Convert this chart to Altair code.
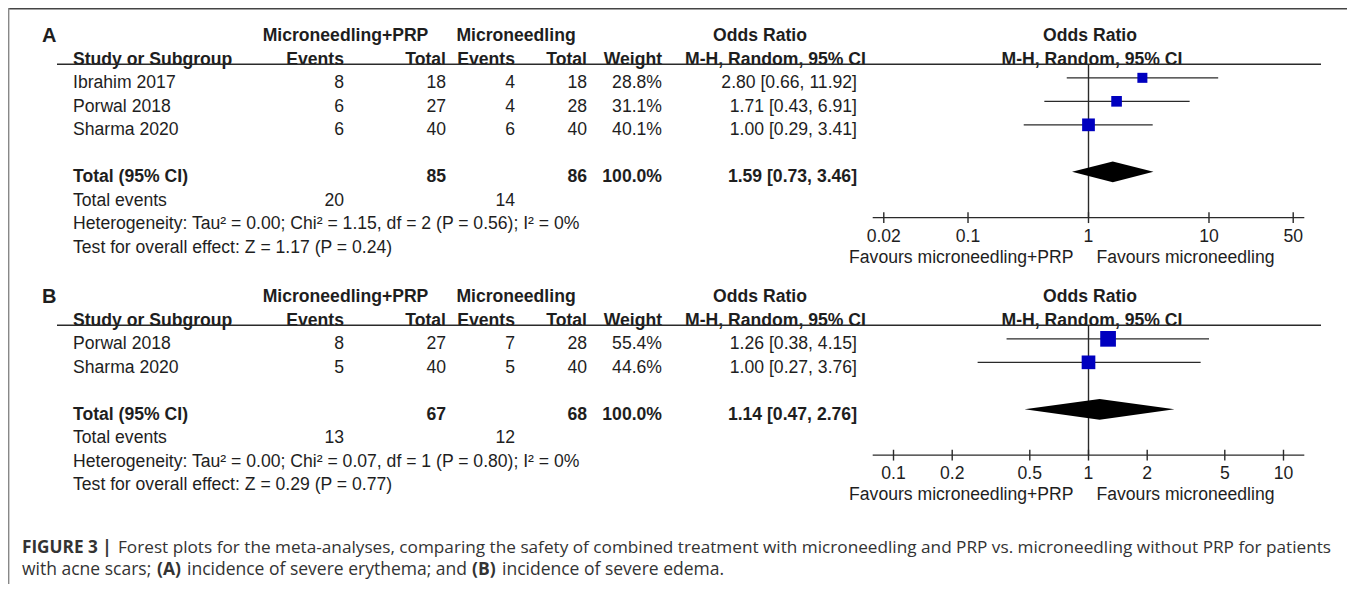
import altair as alt
import pandas as pd

# ---------------- data: panel A (severe erythema) ----------------
A_STUDY = ["Ibrahim 2017", "Porwal 2018", "Sharma 2020"]
A_EXP_EVENTS = [8, 6, 6]
A_EXP_TOTAL = [18, 27, 40]
A_CTL_EVENTS = [4, 4, 6]
A_CTL_TOTAL = [18, 28, 40]
A_WEIGHT = [28.8, 31.1, 40.1]
A_OR = [2.80, 1.71, 1.00]
A_LO = [0.66, 0.43, 0.29]
A_HI = [11.92, 6.91, 3.41]
A_POOLED = [1.59, 0.73, 3.46]
A_TOTALS = [85, 86]
A_TOTAL_EVENTS = [20, 14]
A_HET = "Heterogeneity: Tau² = 0.00; Chi² = 1.15, df = 2 (P = 0.56); I² = 0%"
A_TEST = "Test for overall effect: Z = 1.17 (P = 0.24)"
A_TICKS = [0.02, 0.1, 1, 10, 50]
A_TICK_LABELS = ["0.02", "0.1", "1", "10", "50"]

# ---------------- data: panel B (severe edema) ----------------
B_STUDY = ["Porwal 2018", "Sharma 2020"]
B_EXP_EVENTS = [8, 5]
B_EXP_TOTAL = [27, 40]
B_CTL_EVENTS = [7, 5]
B_CTL_TOTAL = [28, 40]
B_WEIGHT = [55.4, 44.6]
B_OR = [1.26, 1.00]
B_LO = [0.38, 0.27]
B_HI = [4.15, 3.76]
B_POOLED = [1.14, 0.47, 2.76]
B_TOTALS = [67, 68]
B_TOTAL_EVENTS = [13, 12]
B_HET = "Heterogeneity: Tau² = 0.00; Chi² = 0.07, df = 1 (P = 0.80); I² = 0%"
B_TEST = "Test for overall effect: Z = 0.29 (P = 0.77)"
B_TICKS = [0.1, 0.2, 0.5, 1, 2, 5, 10]
B_TICK_LABELS = ["0.1", "0.2", "0.5", "1", "2", "5", "10"]

HEAD1 = ["Microneedling+PRP", "Microneedling", "Odds Ratio", "Odds Ratio"]
HEAD2 = ["Study or Subgroup", "Events", "Total", "Events", "Total", "Weight",
         "M-H, Random, 95% CI", "M-H, Random, 95% CI"]
FAVOURS = ["Favours microneedling+PRP", "Favours microneedling"]
CAPTION = [
    ("FIGURE 3 |", True, 1),
    ("Forest plots for the meta-analyses, comparing the safety of combined treatment with microneedling and PRP vs. microneedling without PRP for patients", False, 1),
    ("with acne scars;", False, 2),
    ("(A)", True, 2),
    ("incidence of severe erythema; and", False, 2),
    ("(B)", True, 2),
    ("incidence of severe edema.", False, 2),
]

# ---------------- layout / style ----------------
W, H = 1339, 576
ROW = 23.5
ROW0 = 75.0
PANEL_SHIFT = 261.0 / ROW
MARK_SHIFT = -0.22
HEAD_LINE = -0.8
AXIS_GAP = 1.73
XR = [864.7, 1296.3]
A_DOMAIN = [10 ** -1.791, 10 ** 1.791]
B_DOMAIN = [10 ** -1.1067, 10 ** 1.1067]
FONT = "Liberation Sans"
FS = 17.6
CAP_FONT = "Open Sans"
CAP_FS = {1: 17.2, 2: 17.5}
TXT = "#1e1e1e"
LINE = "#2a2a2a"
BLUE = "#0000BF"

COLS = {
    "label": (34, "left"), "study": (65, "left"),
    "ee": (336, "right"), "et": (438, "right"), "ce": (507, "right"),
    "ct": (579, "right"), "w": (654, "right"), "ci": (849, "right"),
    "h_exp": (337.5, "center"), "h_ctl": (508, "center"), "h_or": (752, "center"),
    "h_mh": (767.5, "center"), "h_or2": (1082, "center"), "h_mh2": (1084, "center"),
}
CAP_X = {(1, 0): 14, (1, 1): 110, (2, 0): 14, (2, 1): 149, (2, 2): 179, (2, 3): 464, (2, 4): 494}
CAP_Y = {1: 540, 2: 562}

yscale = alt.Scale(domain=[-ROW0 / ROW, (H - ROW0) / ROW], range=[0, H], nice=False, zero=False)
Y = lambda f: alt.Y(f, scale=yscale, axis=None)
size_scale = alt.Scale(domain=[20, 60], range=[52, 271.6], zero=False)


def fmt_ci(v):
    return f"{v[0]:.2f} [{v[1]:.2f}, {v[2]:.2f}]"


def table_df(label, off, study, ee, et, ce, ct, w, orv, lo, hi, pooled, tots, tev, het, test):
    rows = []

    def add(r, col, text, bold=False):
        rows.append(dict(y=r + off, col=col, text=text, bold=bold))

    add(-2, "label", label, True)
    for c, t in zip(["h_exp", "h_ctl", "h_or", "h_or2"], HEAD1):
        add(-2, c, t, True)
    for c, t in zip(["study", "ee", "et", "ce", "ct", "w", "h_mh", "h_mh2"], HEAD2):
        add(-1, c, t, True)
    n = len(study)
    for i in range(n):
        add(i, "study", study[i])
        add(i, "ee", str(ee[i]))
        add(i, "et", str(et[i]))
        add(i, "ce", str(ce[i]))
        add(i, "ct", str(ct[i]))
        add(i, "w", f"{w[i]:.1f}%")
        add(i, "ci", fmt_ci([orv[i], lo[i], hi[i]]))
    t = n + 1
    add(t, "study", "Total (95% CI)", True)
    add(t, "et", str(tots[0]), True)
    add(t, "ct", str(tots[1]), True)
    add(t, "w", "100.0%", True)
    add(t, "ci", fmt_ci(pooled), True)
    add(t + 1, "study", "Total events")
    add(t + 1, "ee", str(tev[0]))
    add(t + 1, "ce", str(tev[1]))
    add(t + 2, "study", het)
    add(t + 3, "study", test)
    return pd.DataFrame(rows)


def text_layers(df):
    layers = []
    for (col, bold), sub in df.groupby(["col", "bold"]):
        x, align = COLS[col]
        size = 20 if col == "label" else FS
        layers.append(
            alt.Chart(sub).mark_text(align=align, baseline="middle", font=FONT, fontSize=size,
                                     fontWeight="bold" if bold else "normal", color=TXT)
            .encode(x=alt.value(x), y=Y("y:Q"), text="text:N")
        )
    return layers


def forest_layers(off, n, w, orv, lo, hi, pooled, domain, ticks, tick_labels):
    xs = alt.Scale(type="log", domain=domain, range=XR, nice=False)
    X = lambda f: alt.X(f, scale=xs, axis=None)
    axis_row = n + 1 + AXIS_GAP + off
    layers = []
    layers.append(alt.Chart(pd.DataFrame({"y": [HEAD_LINE + off]})).mark_rule(color=LINE, strokeWidth=1.6)
                  .encode(x=alt.value(49), x2=alt.value(1313), y=Y("y:Q")))
    layers.append(alt.Chart(pd.DataFrame({"x": [1], "y": [HEAD_LINE + off], "y2": [axis_row]}))
                  .mark_rule(color=LINE, strokeWidth=1.4).encode(x=X("x:Q"), y=Y("y:Q"), y2="y2:Q"))
    st = pd.DataFrame({"y": [i + MARK_SHIFT + off for i in range(n)], "or": orv, "lo": lo, "hi": hi, "w": w})
    layers.append(alt.Chart(st).mark_rule(color=LINE, strokeWidth=1.1)
                  .encode(x=X("lo:Q"), x2="hi:Q", y=Y("y:Q")))
    layers.append(alt.Chart(st).mark_square(color=BLUE, opacity=1)
                  .encode(x=X("or:Q"), y=Y("y:Q"), size=alt.Size("w:Q", scale=size_scale, legend=None)))
    c = n + 1 + MARK_SHIFT + off
    h = 0.44
    dia = pd.DataFrame({"x": [pooled[1], pooled[0], pooled[2]], "y": [c, c - h, c], "y2": [c, c + h, c]})
    layers.append(alt.Chart(dia).mark_area(color="black", orient="vertical", opacity=1)
                  .encode(x=X("x:Q"), y=Y("y:Q"), y2="y2:Q"))
    layers.append(alt.Chart(pd.DataFrame({"x": [domain[0]], "x2": [domain[1]], "y": [axis_row]}))
                  .mark_rule(color=LINE, strokeWidth=1.4).encode(x=X("x:Q"), x2="x2:Q", y=Y("y:Q")))
    tk = pd.DataFrame({"x": ticks, "t": tick_labels, "y": axis_row - 0.23, "y2": axis_row + 0.23,
                       "yl": axis_row + 19 / ROW})
    layers.append(alt.Chart(tk).mark_rule(color=LINE, strokeWidth=1.4)
                  .encode(x=X("x:Q"), y=Y("y:Q"), y2="y2:Q"))
    layers.append(alt.Chart(tk).mark_text(align="center", baseline="middle", font=FONT, fontSize=FS, color=TXT)
                  .encode(x=X("x:Q"), y=Y("yl:Q"), text="t:N"))
    fav = pd.DataFrame({"x": [1], "y": [axis_row + 40 / ROW], "l": [FAVOURS[0]], "r": [FAVOURS[1]]})
    layers.append(alt.Chart(fav).mark_text(align="right", baseline="middle", font=FONT, fontSize=FS, color=TXT, dx=-15)
                  .encode(x=X("x:Q"), y=Y("y:Q"), text="l:N"))
    layers.append(alt.Chart(fav).mark_text(align="left", baseline="middle", font=FONT, fontSize=FS, color=TXT, dx=8)
                  .encode(x=X("x:Q"), y=Y("y:Q"), text="r:N"))
    return layers


dfA = table_df("A", 0, A_STUDY, A_EXP_EVENTS, A_EXP_TOTAL, A_CTL_EVENTS, A_CTL_TOTAL, A_WEIGHT,
               A_OR, A_LO, A_HI, A_POOLED, A_TOTALS, A_TOTAL_EVENTS, A_HET, A_TEST)
dfB = table_df("B", PANEL_SHIFT, B_STUDY, B_EXP_EVENTS, B_EXP_TOTAL, B_CTL_EVENTS, B_CTL_TOTAL, B_WEIGHT,
               B_OR, B_LO, B_HI, B_POOLED, B_TOTALS, B_TOTAL_EVENTS, B_HET, B_TEST)

layers = []
layers.append(alt.Chart(pd.DataFrame({"a": [0]})).mark_rule(color="#444444", strokeWidth=1.6)
              .encode(x=alt.value(0), x2=alt.value(W), y=alt.value(0.8)))
layers.append(alt.Chart(pd.DataFrame({"a": [0]})).mark_rule(color="#888888", strokeWidth=1.4)
              .encode(x=alt.value(0.7), y=alt.value(0), y2=alt.value(H)))
layers += text_layers(dfA) + text_layers(dfB)
layers += forest_layers(0, len(A_STUDY), A_WEIGHT, A_OR, A_LO, A_HI, A_POOLED, A_DOMAIN, A_TICKS, A_TICK_LABELS)
layers += forest_layers(PANEL_SHIFT, len(B_STUDY), B_WEIGHT, B_OR, B_LO, B_HI, B_POOLED, B_DOMAIN, B_TICKS, B_TICK_LABELS)

counters = {1: 0, 2: 0}
for text, bold, line in CAPTION:
    k = counters[line]
    counters[line] += 1
    layers.append(alt.Chart(pd.DataFrame({"t": [text]})).mark_text(
        align="left", baseline="middle", font=CAP_FONT, fontSize=CAP_FS[line],
        fontWeight="bold" if bold else "normal", color="#333333")
        .encode(x=alt.value(CAP_X[(line, k)]), y=alt.value(CAP_Y[line]), text="t:N"))

chart = alt.layer(*layers).resolve_scale(x="independent").properties(
    width=W, height=H, autosize=alt.AutoSizeParams(type="none"), padding=0
).configure_view(stroke=None).configure(background="white")

chart.save("out.html", embed_options={"renderer": "svg", "actions": False})
